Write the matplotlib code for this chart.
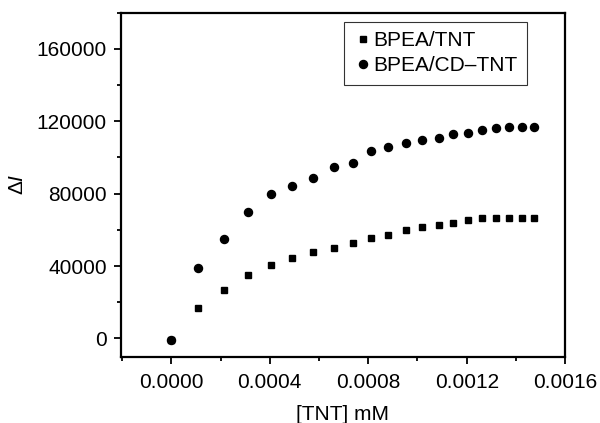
import matplotlib
matplotlib.use("Agg")
import matplotlib.pyplot as plt
from matplotlib.ticker import MultipleLocator

plt.rcParams['font.family'] = ['Liberation Sans', 'DejaVu Sans']
plt.rcParams['mathtext.fontset'] = 'custom'
plt.rcParams['mathtext.rm'] = 'Liberation Sans'
plt.rcParams['mathtext.it'] = 'Liberation Sans:italic'

# TNT concentration (mM) and intensity change
tnt = [0.0, 0.000109, 0.000212, 0.000310, 0.000403, 0.000492, 0.000576,
       0.000659, 0.000736, 0.000810, 0.000882, 0.000953, 0.001020,
       0.001086, 0.001144, 0.001205, 0.001262, 0.001317, 0.001370,
       0.001423, 0.001473]
bpea_tnt = [-700, 16700, 26600, 34900, 40600, 44400, 47700, 50100, 52500,
            55700, 57300, 60200, 61700, 62600, 63900, 65600, 66300, 66300,
            66300, 66500, 66700]
bpea_cd_tnt = [-700, 38700, 55100, 69800, 79600, 84200, 88800, 95000,
               97000, 103700, 106000, 107900, 109500, 111000, 112800,
               113800, 115100, 116200, 116700, 117100, 116900]

fig = plt.figure(figsize=(6.0, 4.23), dpi=100)
ax = fig.add_axes([0.201, 0.157, 0.741, 0.813])

ax.plot(tnt, bpea_tnt, 's', color='black', markersize=4.5, label='BPEA/TNT')
ax.plot(tnt, bpea_cd_tnt, 'o', color='black', markersize=5.8, label='BPEA/CD\u2013TNT')

ax.set_xlim(-0.000206, 0.0016)
ax.set_ylim(-10000, 180000)
ax.xaxis.set_major_locator(MultipleLocator(0.0004))
ax.xaxis.set_minor_locator(MultipleLocator(0.0002))
ax.yaxis.set_major_locator(MultipleLocator(40000))
ax.yaxis.set_minor_locator(MultipleLocator(20000))
ax.set_xticks([0, 0.0004, 0.0008, 0.0012, 0.0016])
ax.set_xticklabels(['0.0000', '0.0004', '0.0008', '0.0012', '0.0016'])

for s in ax.spines.values():
    s.set_linewidth(1.6)
ax.tick_params(which='major', direction='out', length=5, width=1.3,
               labelsize=15)
ax.tick_params(which='minor', direction='out', length=3, width=1.3)
ax.tick_params(axis='x', which='major', pad=7)
ax.tick_params(axis='y', which='major', pad=5)

ax.set_xlabel('[TNT] mM', fontsize=15, labelpad=9)
ax.set_ylabel(r'$\Delta \mathit{I}$', fontsize=15, labelpad=7)

leg = ax.legend(loc='upper right', bbox_to_anchor=(0.9145, 0.974), fontsize=15,
                frameon=True, fancybox=False, edgecolor='black',
                handletextpad=0.05, handlelength=0.9, borderpad=0.45,
                borderaxespad=0.0, labelspacing=0.3)
leg.get_frame().set_linewidth(0.8)

plt.savefig("out.png", dpi=100)
